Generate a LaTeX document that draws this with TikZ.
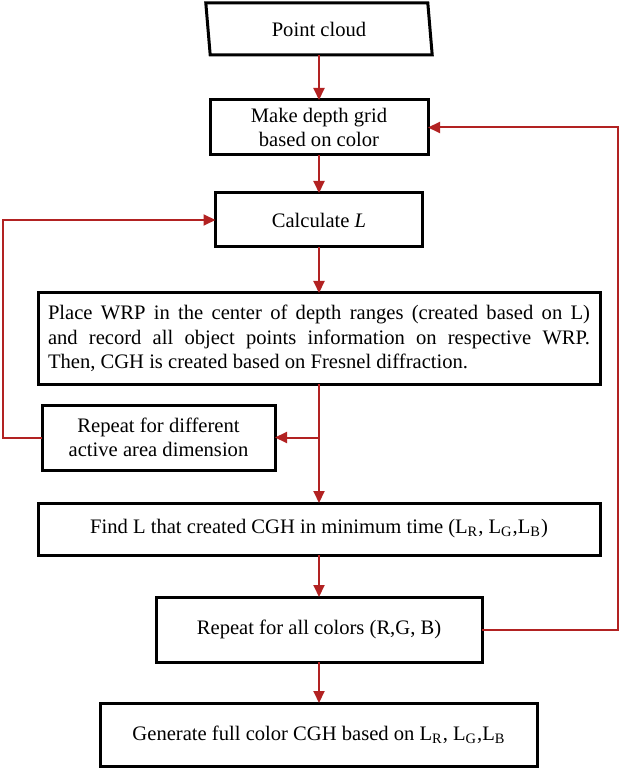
\documentclass[tikz,border=0pt]{standalone}
\usepackage{fontspec}
\setmainfont{Liberation Serif}
\usetikzlibrary{positioning, arrows.meta}
\definecolor{flowred}{RGB}{178,34,34}
\tikzset{
    node distance=20pt, % Default gap between two boxes
    process/.style={ % Sets the properties for each step box
        draw,
        line width=1.5pt,
        align=center,
        inner sep=2pt,
        outer sep=0pt,
        font=\fontsize{10.3}{12.25}\selectfont
    },
    flow/.style={ % Red connectors with filled arrow heads
        draw=flowred,
        line width=1pt,
        -{Triangle[length=6pt,width=5.5pt]}
    }
}

\begin{document}
\begin{tikzpicture}[x=0.5pt, y=-0.5pt]
           \useasboundingbox (0,0) rectangle (622,769);
           \node[process, draw=none, minimum width=111pt, minimum height=26pt] (pc) at (319,29) {Point cloud};
           \draw[line width=1.5pt] ([xshift=-1.1pt]pc.north west) -- ([xshift=-1.1pt]pc.north east)
                   -- ([xshift=1.1pt]pc.south east) -- ([xshift=1.1pt]pc.south west) -- cycle;
           \node[process, minimum width=109pt, minimum height=27.5pt, below=22.5pt of pc]   (grid)  {Make depth grid\\based on color};
           \node[process, minimum width=103.5pt, minimum height=27pt, below=19pt of grid]    (calc)  {Calculate \textit{L}};
           \node[process, text width=271pt, inner xsep=5pt, align=justify, minimum height=45.5pt, below=23pt of calc] (wrp)
                   {Place WRP in the center of depth ranges (created based on L)\linebreak
                    and record all object points information on respective WRP.\linebreak
                    Then, CGH is created based on Fresnel diffraction.};
           \node[process, minimum width=116.5pt, minimum height=32.5pt, below right=10.5pt and 2pt of wrp.south west] (rep)
                   {Repeat for different\\active area dimension};
           \node[process, minimum width=281pt, minimum height=26pt, below=59.5pt of wrp]    (findL)
                   {Find L that created CGH in minimum time (L\textsubscript{R}, L\textsubscript{G},L\textsubscript{B})};
           \node[process, minimum width=163pt, minimum height=32.5pt, below=21pt of findL]  (repc)  {Repeat for all colors (R,G, B)};
           \node[process, minimum width=218.5pt, minimum height=31.5pt, below=20.5pt of repc] (gen)
                   {Generate full color CGH based on L\textsubscript{R}, L\textsubscript{G},L\textsubscript{B}};
           \coordinate (lft) at (3,0);
           \coordinate (rgt) at (618,0);
           \draw[flow] (pc) -- (grid);
           \draw[flow] (grid) -- (calc);
           \draw[flow] (calc) -- (wrp);
           \draw[flow] (wrp.south) -- (findL.north);
           \draw[flow] (wrp.south |- rep.east) -- (rep.east);
           \draw[flow] (rep.west) -- (rep.west -| lft) |- (calc.west);
           \draw[flow] (findL) -- (repc);
           \draw[flow] (repc) -- (gen);
           \draw[flow] (repc.east) -- (repc.east -| rgt) |- (grid.east);
\end{tikzpicture}
\end{document}
